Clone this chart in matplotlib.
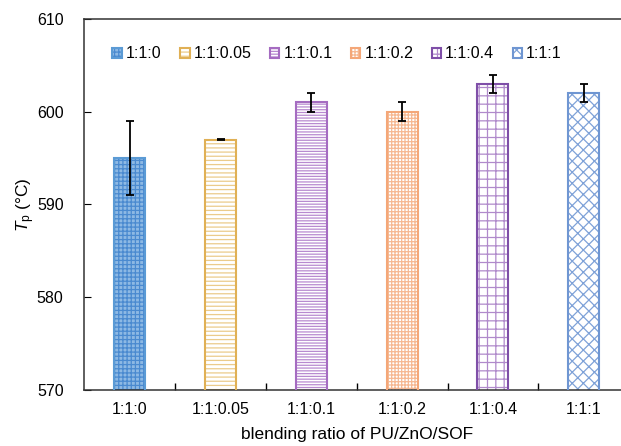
import matplotlib
matplotlib.use("Agg")
import matplotlib.pyplot as plt
from matplotlib.legend_handler import HandlerTuple

plt.rcParams['font.family'] = ['Liberation Sans', 'DejaVu Sans']
plt.rcParams['mathtext.fontset'] = 'custom'
plt.rcParams['mathtext.rm'] = 'Liberation Sans'
plt.rcParams['mathtext.it'] = 'Liberation Sans:italic'
plt.rcParams['hatch.linewidth'] = 0.9

ratios = ['1:1:0', '1:1:0.05', '1:1:0.1', '1:1:0.2', '1:1:0.4', '1:1:1']
tp_mean = [595, 597, 601, 600, 603, 602]
tp_err = [4, 0.05, 1, 1, 1, 1]

# style per bar: (face, hatch colour, hatch, edge)
styles = [
    ('#8DB9E4', '#4A8AD0', '++++', '#5B9BD5'),
    ('white', '#EBCB8B', '----', '#E0B055'),
    ('white', '#B88AD0', '------', '#A56CC1'),
    ('white', '#F6B892', '+++++', '#F4A778'),
    ('white', '#B08ACB', '++', '#7F4FA8'),
    ('white', '#7FA2D8', 'xxx', '#6F96D2'),
]

fig = plt.figure(figsize=(6.21, 4.46), dpi=100)
ax = fig.add_axes([0.136, 0.1256, 0.877, 0.832])

x = list(range(len(ratios)))
width = 0.34
handles = []
for i, (face, hcol, hatch, edge) in enumerate(styles):
    fill = ax.bar(x[i], tp_mean[i], width, bottom=0, facecolor=face,
                  edgecolor=hcol, hatch=hatch, linewidth=0, zorder=2)
    outline = ax.bar(x[i], tp_mean[i], width, facecolor='none',
                     edgecolor=edge, linewidth=1.5, zorder=3)
    handles.append((fill[0], outline[0]))

ax.errorbar(x, tp_mean, yerr=tp_err, fmt='none', ecolor='black',
            elinewidth=1.3, capsize=3, capthick=1.3, zorder=4)

ax.set_ylim(570, 610)
ax.set_yticks([570, 580, 590, 600, 610])
ax.set_xlim(-0.5, 5.5)
ax.set_xticks(x, ratios)
ax.set_xticks([0.5, 1.5, 2.5, 3.5, 4.5], minor=True)
ax.tick_params(axis='x', which='major', length=0, pad=9, labelsize=11.5)
ax.tick_params(axis='x', which='minor', length=5, direction='in', width=1)
ax.tick_params(axis='y', length=5, direction='in', labelsize=11.5, pad=15)
for s in ax.spines.values():
    s.set_linewidth(1.1)
    s.set_color('#333333')
ax.spines['right'].set_visible(False)

ax.set_ylabel(r'$T_\mathrm{p}$ (°C)', fontsize=12.5, labelpad=0)
ax.set_xlabel('blending ratio of PU/ZnO/SOF', fontsize=12.5, labelpad=7)

ax.legend(handles, ratios, handler_map={tuple: HandlerTuple(ndivide=1, pad=0)},
          loc='upper left', ncol=6, frameon=False, fontsize=11.5,
          handlelength=0.6, handleheight=0.6, handletextpad=0.25,
          columnspacing=1.15, bbox_to_anchor=(0.025, 0.965))

fig.savefig('out.png', dpi=100)
